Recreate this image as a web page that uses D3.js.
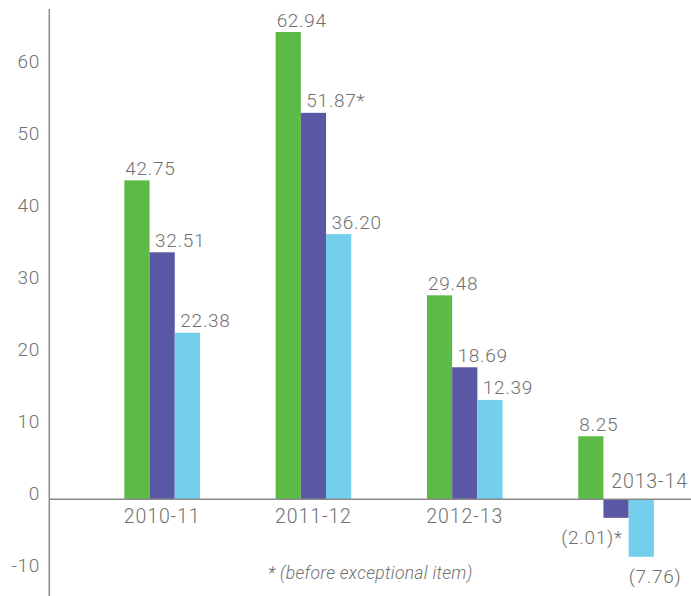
<!doctype html>
<html>
<head>
<meta charset="utf-8">
<script src="https://d3js.org/d3.v7.min.js"></script>
<style>
    body { margin: 0; background: #fff; }
    svg { display: block; }
    text {
        font-family: 'Roboto', 'Liberation Sans', sans-serif;
        font-weight: 300;
        fill: #707070;
    }
    text.tick-label, text.value { font-size: 19px; letter-spacing: 0.7px; }
    text.cat { font-size: 19.5px; letter-spacing: 0.9px; }
    text.note { font-size: 17.5px; font-style: italic; letter-spacing: 0.3px; }
    .axis-line { stroke: #8a8a8a; stroke-width: 1.5; }
</style>
</head>
<body>
<svg width="691" height="596"></svg>
<script>
    const years = ['2010-11', '2011-12', '2012-13', '2013-14']
    const series = ['a', 'b', 'c']
    // bar heights as drawn in the picture (printed labels below)
    const seriesA = [43.0, 63.0, 27.5, 8.5]
    const seriesB = [33.3, 52.1, 17.8, -2.5]
    const seriesC = [22.45, 35.75, 13.4, -7.75]
    const labelsA = ['42.75', '62.94', '29.48', '8.25']
    const labelsB = ['32.51', '51.87*', '18.69', '(2.01)*']
    const labelsC = ['22.38', '36.20', '12.39', '(7.76)']
    const yTicks = [-10, 0, 10, 20, 30, 40, 50, 60]
    const colors = ['#5cbb46', '#5a58a4', '#74cfec']
    const note = '* (before exceptional item)'

    const svg = d3.select('svg')

    const rows = years.map((y, i) => ({
        year: y,
        vals: [
            { k: 'a', v: seriesA[i], t: labelsA[i] },
            { k: 'b', v: seriesB[i], t: labelsB[i] },
            { k: 'c', v: seriesC[i], t: labelsC[i] }
        ]
    }))

    const x0 = d3.scaleBand()
        .domain(years)
        .range([86.5, 691.7])
        .paddingInner(0.5)
        .paddingOuter(0.25)

    const x1 = d3.scaleBand()
        .domain(series)
        .range([0, x0.bandwidth()])

    const color = d3.scaleOrdinal().domain(series).range(colors)

    // bars
    const y = d3.scaleLinear()
        .domain([0, 63])
        .range([499.3, 32])

    // the printed tick labels sit on their own spacing
    const yLab = d3.scaleLinear()
        .domain([-10, 60])
        .range([565, 61.7])

    const axis = svg.append('g')
        .attr('transform', 'translate(40,0)')
        .call(d3.axisLeft(yLab).tickValues(yTicks).tickSize(0).tickPadding(0).tickFormat(d => String(d)))
    axis.select('.domain').remove()
    axis.selectAll('text')
        .attr('class', 'tick-label')
        .attr('fill', null)
        .attr('font-family', null)
        .attr('font-size', null)

    const groups = svg.selectAll('g.year')
        .data(rows)
        .enter()
        .append('g')
        .attr('class', 'year')
        .attr('transform', d => `translate(${x0(d.year)},0)`)

    groups.selectAll('rect')
        .data(d => d.vals)
        .enter()
        .append('rect')
        .attr('x', d => x1(d.k))
        .attr('y', d => y(Math.max(0, d.v)))
        .attr('width', x1.bandwidth())
        .attr('height', d => Math.abs(y(d.v) - y(0)))
        .attr('fill', d => color(d.k))

    groups.selectAll('text.value')
        .data(d => d.vals)
        .enter()
        .append('text')
        .attr('class', 'value')
        .attr('x', d => {
            if (d.v < 0 && d.k === 'b') return x1(d.k) + x1.bandwidth() - 6
            if (d.v < 0) return x1(d.k)
            return x1(d.k) + (d.k === 'a' ? 1 : 5.5)
        })
        .attr('y', d => d.v < 0 ? y(d.v) + 26 : y(d.v) - 5.5)
        .attr('text-anchor', d => (d.v < 0 && d.k === 'b') ? 'end' : 'start')
        .text(d => d.t)

    // axis lines
    svg.append('line')
        .attr('class', 'axis-line')
        .attr('x1', 49.3).attr('x2', 49.3)
        .attr('y1', 9).attr('y2', 596)
    svg.append('line')
        .attr('class', 'axis-line')
        .attr('x1', 49.3).attr('x2', 691)
        .attr('y1', y(0)).attr('y2', y(0))

    // category labels; last one sits above the baseline at the right edge
    svg.selectAll('text.cat')
        .data(years)
        .enter()
        .append('text')
        .attr('class', 'cat')
        .attr('x', (d, i) => i === 3 ? 688 : x0(d) + x0.bandwidth() / 2)
        .attr('y', (d, i) => i === 3 ? 488 : 523)
        .attr('text-anchor', (d, i) => i === 3 ? 'end' : 'middle')
        .text(d => d)

    svg.append('text')
        .attr('class', 'note')
        .attr('x', 268)
        .attr('y', 579)
        .text(note)
</script>
</body>
</html>
